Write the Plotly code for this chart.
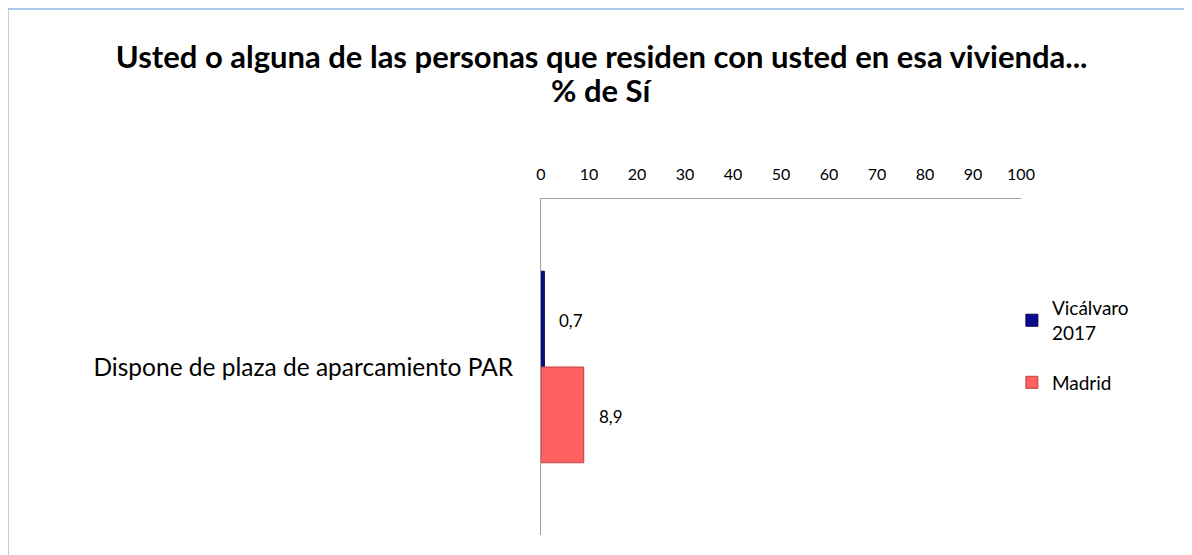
import plotly.graph_objects as go

# data
categories = ["Dispone de plaza de aparcamiento PAR"]
series_names = ["Vicálvaro<br>2017", "Madrid"]
vicalvaro = [0.7]
madrid = [8.9]
x_ticks = [0, 10, 20, 30, 40, 50, 60, 70, 80, 90, 100]
title_line1 = "Usted o alguna de las personas que residen con usted en esa vivienda..."
title_line2 = "% de Sí"

FONT = "Lato"

fig = go.Figure()
fig.add_trace(go.Bar(
    y=categories, x=vicalvaro, name=series_names[0], orientation="h",
    legendgroup="a",
    marker=dict(color="#0B0B8E", line=dict(color="#05054F", width=1)),
))
fig.add_trace(go.Bar(
    y=categories, x=madrid, name=series_names[1], orientation="h",
    legendgroup="b",
    marker=dict(color="#FF6060", line=dict(color="#B84444", width=1)),
))

# data labels, placed right of each bar like the original
for vals, shift in ((vicalvaro, 47), (madrid, -49)):
    for cat, v in zip(categories, vals):
        fig.add_annotation(
            x=v, y=cat, text=f"{v:.1f}".replace(".", ","),
            showarrow=False, xanchor="left", xshift=13, yshift=shift,
            font=dict(family=FONT, size=17, color="#000000"),
        )

# second title line (tighter line spacing than plotly's title gives)
fig.add_annotation(
    xref="paper", yref="paper", x=(594 - 533) / 480, y=(527 - 82) / 336,
    text=title_line2, showarrow=False, xanchor="center", yanchor="middle",
    font=dict(family=FONT, size=31, color="#000000", weight="bold"),
)

# outer chart frame
fig.add_shape(type="rect", xref="paper", yref="paper",
              x0=-533 / 480, x1=1.5, y0=-0.3, y1=(336 + 191 - 1) / 336,
              line=dict(color="#8EB4E3", width=1.3), fillcolor="rgba(0,0,0,0)")

fig.update_layout(
    width=1192, height=555,
    barmode="group", bargap=0.43, bargroupgap=0,
    separators=",.",
    paper_bgcolor="white", plot_bgcolor="white",
    margin=dict(l=533, r=179, t=191, b=28),
    title=dict(
        text=title_line1,
        x=0.498, xanchor="center", y=1 - 49 / 555, yanchor="middle",
        font=dict(family=FONT, size=31, color="#000000", weight="bold"),
    ),
    font=dict(family=FONT, color="#000000"),
    legend=dict(
        x=0.981, y=0.732, xanchor="left", yanchor="top",
        font=dict(family=FONT, size=19), traceorder="grouped",
        itemwidth=30, tracegroupgap=22,
    ),
    xaxis=dict(
        side="top", range=[0, 100], tickvals=x_ticks,
        showgrid=False, zeroline=False,
        showline=True, linecolor="#A0A0A0", linewidth=1,
        ticks="outside", ticklen=12, tickcolor="rgba(0,0,0,0)",
        tickfont=dict(family=FONT, size=16),
    ),
    yaxis=dict(
        autorange="reversed", showgrid=False,
        showline=True, linecolor="#A0A0A0", linewidth=1,
        ticks="outside", ticklen=22, tickcolor="rgba(0,0,0,0)",
        tickfont=dict(family=FONT, size=24.5),
    ),
)

fig.write_html("out.html")
